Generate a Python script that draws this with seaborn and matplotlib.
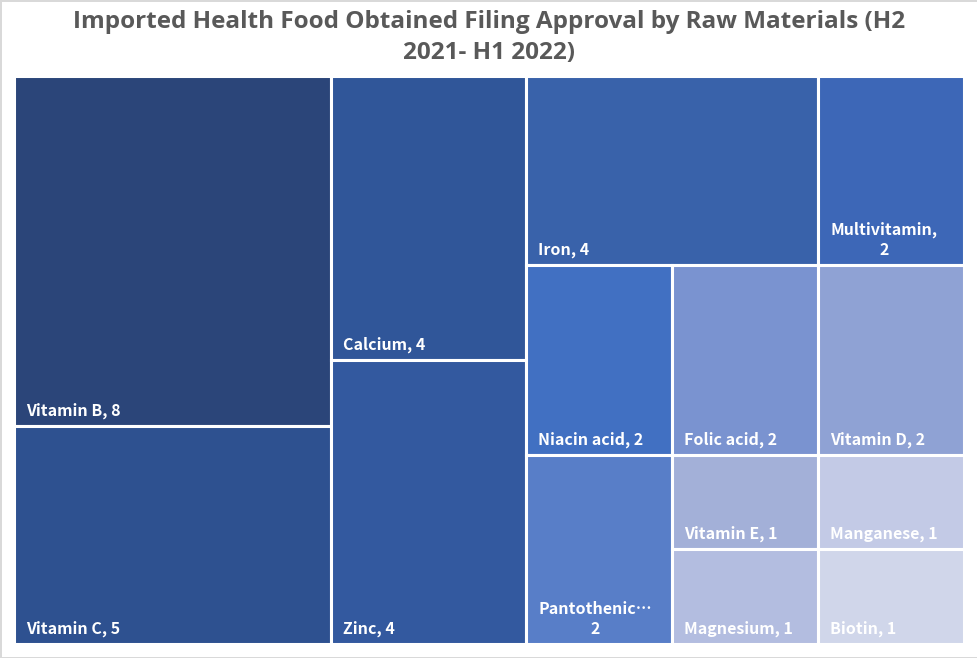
import matplotlib
matplotlib.use("Agg")
import matplotlib.pyplot as plt
from matplotlib.patches import Rectangle
import seaborn as sns

# Daten
materials = ["Vitamin B", "Vitamin C", "Calcium", "Zinc", "Iron", "Multivitamin",
             "Niacin acid", "Pantothenic acid", "Folic acid", "Vitamin D",
             "Vitamin E", "Magnesium", "Manganese", "Biotin"]
counts = [8, 5, 4, 4, 4, 2, 2, 2, 2, 2, 1, 1, 1, 1]
colors = ["#2b4579", "#2e5190", "#305699", "#33599f", "#3962aa", "#3d67b7",
          "#4170c2", "#587ec8", "#7a93d0", "#8fa2d4", "#a3b0d8", "#b3bde0",
          "#c3cae6", "#d0d6ea"]
title = "Imported Health Food Obtained Filing Approval by Raw Materials (H2\n2021- H1 2022)"


# squarified treemap layout
def worst(row, side):
    s = sum(row)
    return max(max(side * side * r / (s * s), s * s / (side * side * r)) for r in row)


def squarify(values, x, y, w, h):
    rects = []
    vals = list(values)
    while vals:
        side = min(w, h)
        row = [vals[0]]
        i = 1
        while i < len(vals) and worst(row + [vals[i]], side) <= worst(row, side):
            row.append(vals[i])
            i += 1
        vals = vals[i:]
        s = sum(row)
        if w >= h:
            # column on the left
            cw = s / h
            cy = y
            for r in row:
                rects.append((x, cy, cw, r / cw))
                cy += r / cw
            x += cw
            w -= cw
        else:
            # row along the top
            rh = s / w
            cx = x
            for r in row:
                rects.append((cx, y, r / rh, rh))
                cx += r / rh
            y += rh
            h -= rh
    return rects


def main():
    sns.set_style("white")
    plt.rcParams["font.family"] = ["Noto Sans CJK SC", "DejaVu Sans"]

    W, H = 950.0, 568.0
    total = sum(counts)
    areas = [c / total * W * H for c in counts]
    rects = squarify(areas, 0, 0, W, H)

    fig = plt.figure(figsize=(9.78, 6.58), dpi=100)
    fig.patch.set_edgecolor("#d9d9d9")
    fig.patch.set_linewidth(2)
    ax = fig.add_axes([14 / 978, 14 / 658, 950 / 978, 568 / 658])
    ax.set_xlim(0, W)
    ax.set_ylim(H, 0)
    ax.axis("off")

    renderer = fig.canvas.get_renderer()
    for (x, y, w, h), name, c, col in zip(rects, materials, counts, colors):
        ax.add_patch(Rectangle((x, y), w, h, facecolor=col, edgecolor="white", lw=2.2))
        maxw = w - 28
        txt = ax.annotate(f"{name}, {c}", xy=(x, y + h), xytext=(9, 5),
                          textcoords="offset points", ha="left", va="bottom",
                          color="white", fontsize=11.5, fontweight="bold",
                          multialignment="center", linespacing=1.35)
        if txt.get_window_extent(renderer).width > maxw:
            txt.set_text(f"{name},\n{c}")
            short = name
            while txt.get_window_extent(renderer).width > maxw and short:
                # erst ganze Woerter weg, dann Zeichen
                short = short.rsplit(" ", 1)[0] if " " in short else short[:-1]
                txt.set_text(f"{short}\u2026\n{c}")

    fig.suptitle(title, y=0.985, fontsize=17.5, fontweight="bold", color="#595959",
                 family=["Open Sans", "DejaVu Sans"], linespacing=1.4)
    fig.savefig("out.png", dpi=100)


if __name__ == "__main__":
    main()
